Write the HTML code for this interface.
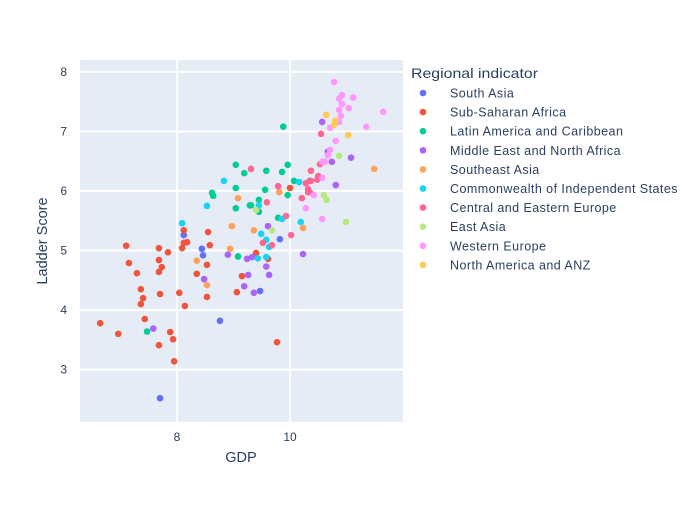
<!DOCTYPE html>
<html><head><meta charset="utf-8"><style>
body{margin:0;background:#fff;font-family:"Liberation Sans",sans-serif;}
svg text{font-family:"Liberation Sans",sans-serif;fill:#2a3f5f;}
</style></head><body>
<svg id="chart" width="700" height="500" xmlns="http://www.w3.org/2000/svg">
<rect x="0" y="0" width="700" height="500" fill="#fff"/>
<rect x="80" y="60" width="323" height="362" fill="#e5ecf6"/>
<g id="grid"></g>
<g id="ticks"></g>
<g id="points"></g>
<text x="241" y="462" text-anchor="middle" font-size="14.5">GDP</text>
<text transform="translate(47,241) rotate(-90)" text-anchor="middle" font-size="14.5">Ladder Score</text>
<g id="legend">
<text x="411" y="78" font-size="14" textLength="127" lengthAdjust="spacingAndGlyphs">Regional indicator</text>
</g>
</svg>
<script>
const regions = ["South Asia","Sub-Saharan Africa","Latin America and Caribbean","Middle East and North Africa","Southeast Asia","Commonwealth of Independent States","Central and Eastern Europe","East Asia","Western Europe","North America and ANZ"];
const colors = ["#636efa","#EF553B","#00cc96","#ab63fa","#FFA15A","#19d3f3","#FF6692","#B6E880","#FF97FF","#FECB52"];
const xTicks = [8,10];
const yTicks = [3,4,5,6,7,8];
const gdpSouthAsia = [8.12,8.44,8.46,8.76,7.70,9.82,9.47];
const scoreSouthAsia = [5.26,5.03,4.92,3.82,2.52,5.19,4.32];
const gdpAfrica = [7.10,7.68,7.84,8.09,8.12,8.18,8.12,8.55,8.58,7.15,7.68,7.73,7.29,7.68,8.53,8.35,7.36,7.40,7.36,7.70,8.04,8.53,8.14,9.15,9.06,7.43,6.64,6.96,7.88,7.93,7.68,7.95,9.40,9.61,9.77,10.00];
const scoreAfrica = [5.08,5.04,4.97,5.04,5.13,5.14,5.34,5.31,5.09,4.79,4.84,4.72,4.62,4.64,4.76,4.61,4.35,4.20,4.10,4.27,4.29,4.22,4.07,4.57,4.30,3.85,3.78,3.60,3.63,3.51,3.41,3.14,4.96,4.86,3.46,6.05];
const gdpLatin = [9.88,9.04,9.19,9.58,9.96,9.86,8.62,8.64,9.04,9.56,9.96,10.07,10.35,9.45,9.31,9.45,9.04,9.29,9.79,9.08,7.47];
const scoreLatin = [7.08,6.44,6.30,6.34,6.44,6.32,5.97,5.92,6.05,6.02,5.93,6.17,6.17,5.85,5.76,5.65,5.71,5.76,5.55,4.90,3.64];
const gdpMena = [7.58,8.90,9.24,9.33,9.58,9.26,9.63,9.19,9.36,8.48,9.61,10.23,10.57,10.67,10.74,11.08,10.81];
const scoreMena = [3.69,4.93,4.86,4.89,4.73,4.59,4.59,4.40,4.29,4.52,5.41,4.94,7.16,6.66,6.49,6.56,6.10];
const gdpSea = [8.97,8.94,8.35,8.53,9.08,9.81,9.36,10.23,11.49];
const scoreSea = [5.41,5.03,4.83,4.42,5.88,5.98,5.34,5.38,6.37];
const gdpCis = [8.53,8.09,8.83,9.45,9.86,9.49,9.58,9.63,9.43,9.58,10.16,10.19];
const scoreCis = [5.75,5.46,6.17,5.76,5.53,5.28,5.18,5.06,4.87,4.89,6.15,5.48];
const gdpCee = [9.31,9.79,9.59,10.21,10.28,10.32,9.93,10.02,9.52,9.68,10.55,10.53,10.37,10.50,10.48,10.37,10.32,10.35];
const scoreCee = [6.37,6.08,5.81,5.88,6.13,5.98,5.58,5.26,5.13,5.09,6.96,6.45,6.34,6.25,6.19,6.17,6.03,5.98];
const gdpEastAsia = [9.40,9.68,10.87,10.60,10.65,10.99];
const scoreEastAsia = [5.68,5.34,6.59,5.93,5.85,5.48];
const gdpWest = [10.78,10.92,10.87,11.12,10.92,10.87,11.04,10.90,10.87,10.71,11.65,11.35,10.81,10.71,10.67,10.57,10.62,10.57,10.42,10.28,10.57];
const scoreWest = [7.83,7.61,7.55,7.57,7.46,7.36,7.39,7.26,7.16,7.06,7.33,7.08,6.84,6.69,6.60,6.49,6.49,6.22,5.93,5.71,5.53];
const gdpNa = [10.64,10.80,10.78,11.03];
const scoreNa = [7.28,7.18,7.11,6.94];
const gdpSeries = [gdpSouthAsia,gdpAfrica,gdpLatin,gdpMena,gdpSea,gdpCis,gdpCee,gdpEastAsia,gdpWest,gdpNa];
const scoreSeries = [scoreSouthAsia,scoreAfrica,scoreLatin,scoreMena,scoreSea,scoreCis,scoreCee,scoreEastAsia,scoreWest,scoreNa];

const NS="http://www.w3.org/2000/svg";
const X0=80,X1=403,Y0=60,Y1=422;
const xMin=6.283,xMax=12.0,yMin=2.12,yMax=8.2;
function xs(v){return X0+(v-xMin)/(xMax-xMin)*(X1-X0);}
function ys(v){return Y1-(v-yMin)/(yMax-yMin)*(Y1-Y0);}
function mk(tag,attrs,parent){const e=document.createElementNS(NS,tag);for(const k in attrs)e.setAttribute(k,attrs[k]);parent.appendChild(e);return e;}
const grid=document.getElementById('grid'),ticks=document.getElementById('ticks'),pts=document.getElementById('points'),leg=document.getElementById('legend');
xTicks.forEach(t=>{
  const l=mk('line',{x1:xs(t),x2:xs(t),y1:Y0,y2:Y1,stroke:'#fff','stroke-width':2},grid);
  
  
  const tx=mk('text',{x:xs(t),y:Y1+19,'text-anchor':'middle','font-size':12},ticks);
  tx.textContent=t;
  
  
});
yTicks.forEach(t=>{
  const l=mk('line',{x1:X0,x2:X1,y1:ys(t),y2:ys(t),stroke:'#fff','stroke-width':2},grid);
  
  
  const tx=mk('text',{x:X0-13,y:ys(t)+4,'text-anchor':'end','font-size':12},ticks);
  tx.textContent=t;
  
  
});
gdpSeries.forEach((g,si)=>{
  g.forEach((v,i)=>{
    const c=mk('circle',{cx:xs(v),cy:ys(scoreSeries[si][i]),r:3.3,fill:colors[si]},pts);
    
    
  });
});
regions.forEach((r,i)=>{
  const y=93+i*19.1;
  const c=mk('circle',{cx:423,cy:y,r:3.3,fill:colors[i]},leg);
  
  
  const t=mk('text',{x:450,y:y+4.5,'font-size':12.5,'letter-spacing':0.45},leg);
  t.textContent=r;
  
  
});
</script>
</body></html>
